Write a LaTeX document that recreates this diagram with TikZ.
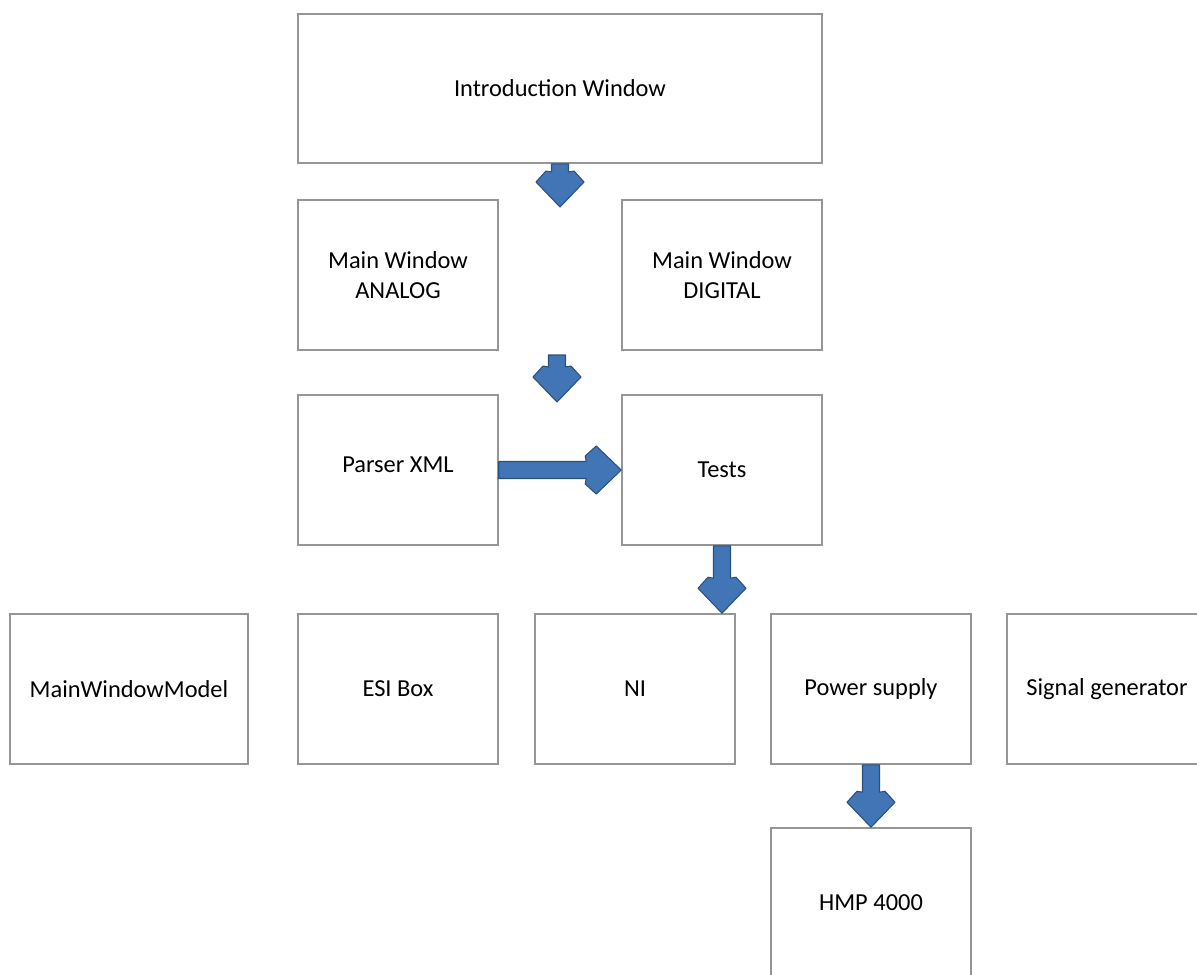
\documentclass[tikz,border=0pt]{standalone}
\usepackage{fontspec}
\setmainfont{Carlito}
\usepackage{xcolor}
\usepackage{tikz}
\usetikzlibrary{calc}

\definecolor{boxgray}{RGB}{150,150,150}
\definecolor{arrowfill}{RGB}{66,117,181}
\definecolor{arrowline}{RGB}{42,80,128}

\newcommand{\boxfont}{\fontsize{13.9}{16.7}\selectfont}

% block arrow pointing down, #1 = start, #2 = tip
\newcommand{\dnarrow}[2]{%
  \draw[blockarrow] ($(#1)+(-8.5,0)$) -- ($(#2)+(-8.5,-35)$) -- ($(#2)+(-14,-36)$)
    -- ($(#2)+(-24,-25)$) -- (#2) -- ($(#2)+(24,-25)$) -- ($(#2)+(14,-36)$)
    -- ($(#2)+(8.5,-35)$) -- ($(#1)+(8.5,0)$) -- cycle;}

% block arrow pointing right, #1 = start, #2 = tip
\newcommand{\rtarrow}[2]{%
  \draw[blockarrow] ($(#1)+(0,-8.5)$) -- ($(#2)+(-35,-8.5)$) -- ($(#2)+(-36,-14)$)
    -- ($(#2)+(-25,-24)$) -- (#2) -- ($(#2)+(-25,24)$) -- ($(#2)+(-36,14)$)
    -- ($(#2)+(-35,8.5)$) -- ($(#1)+(0,8.5)$) -- cycle;}

\begin{document}
\begin{tikzpicture}[x=0.02cm,y=-0.02cm,
    box/.style={draw=boxgray, line width=0.9pt, fill=white, minimum width=4cm,
        minimum height=3cm, inner sep=0pt, align=center, font=\boxfont},
    blockarrow/.style={fill=arrowfill, draw=arrowline, line width=0.6pt, line join=round}]

% Page
\useasboundingbox (0,0) rectangle (1197,974);
\fill[white] (0,0) rectangle (1197,974);
\clip (0,0) rectangle (1197,974);

% Windows
\node[box, minimum width=10.48cm, minimum height=2.98cm] (intro) at (560,88.5) {Introduction Window};
\node[box] (analog) at (398,275) {Main Window\\ANALOG};
\node[box] (digital) at (722,275) {Main Window\\DIGITAL};
\node[box] (parser) at (398,470) {\raisebox{-1.7pt}[0pt][0pt]{Parser XML}};
\node[box] (tests) at (722,470) {Tests};

% Models and devices
\node[box, minimum width=4.76cm] (model) at (129,689) {MainWindowModel};
\foreach \x/\n/\t in {398/esi/ESI Box, 635/ni/NI, 871/power/Power supply, 1107/siggen/Signal generator} {
    \node[box] (\n) at (\x,689) {\t};
}
\node[box] (hmp) at (871,903) {HMP 4000};

% Free arrow ends
\coordinate (t1) at (560,207);
\coordinate (s2) at (557,355);
\coordinate (t2) at (557,402);

% Arrows
\dnarrow{intro.south}{t1}
\dnarrow{s2}{t2}
\rtarrow{parser.east}{tests.west}
\dnarrow{tests.south}{tests.south |- ni.north}
\dnarrow{power.south}{hmp.north}

\end{tikzpicture}
\end{document}
